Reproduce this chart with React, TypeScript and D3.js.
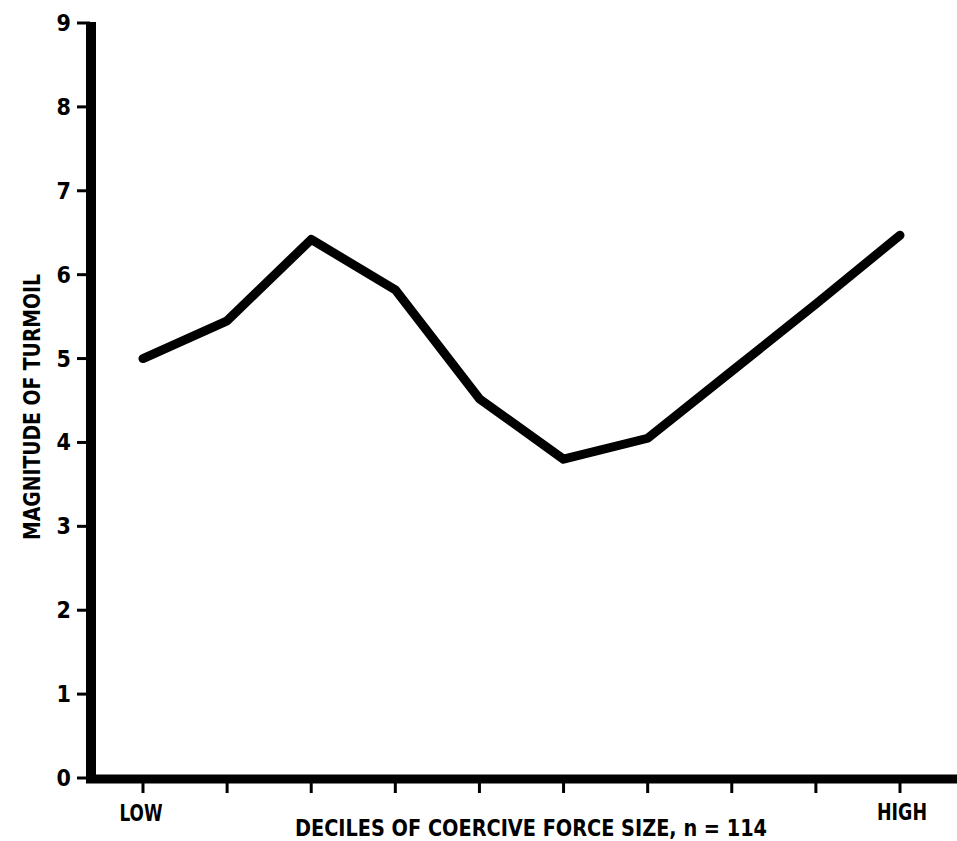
import React from "react";
import * as d3 from "d3";

const deciles = [1, 2, 3, 4, 5, 6, 7, 8, 9, 10];
const turmoil = [5.0, 5.45, 6.42, 5.82, 4.52, 3.8, 4.05, 4.85, 5.65, 6.47];
const yTicks = [0, 1, 2, 3, 4, 5, 6, 7, 8, 9];
const xEndLabels = ["LOW", "HIGH"];
const xTitle = "DECILES OF COERCIVE FORCE SIZE, n = 114";
const yTitle = "MAGNITUDE OF TURMOIL";

const W = 957;
const H = 841;
const FONT = "'Liberation Sans Narrow', 'DejaVu Sans Condensed', 'Arial Narrow', sans-serif";

export default function App() {
  const x = d3.scaleLinear().domain([1, 10]).range([143, 900]);
  const y = d3.scaleLinear().domain([0, 9]).range([778, 23]);
  const line = d3
    .line<number>()
    .x((_, i) => x(deciles[i]))
    .y((d) => y(d));

  const axisX = 91;
  const axisY = 779;

  return (
    <svg
      width={W}
      height={H}
      viewBox={`0 0 ${W} ${H}`}
      style={{ position: "fixed", left: 0, top: 0, background: "#fff" }}
    >
      <rect x={0} y={0} width={W} height={H} fill="#fff" />
      {/* y ticks */}
      {yTicks.map((t) => (
        <g key={t}>
          <line x1={77} x2={90} y1={y(t)} y2={y(t)} stroke="#000" strokeWidth={3} />
          <text
            x={71}
            y={y(t) + 8}
            textAnchor="end"
            fontFamily={FONT}
            fontWeight="bold"
            fontSize={23}
            fill="#000"
          >
            {t}
          </text>
        </g>
      ))}
      {/* x ticks */}
      {deciles.map((d) => (
        <line key={d} x1={x(d)} x2={x(d)} y1={782} y2={793} stroke="#000" strokeWidth={3} />
      ))}
      {/* axes */}
      <line x1={axisX} x2={axisX} y1={22} y2={783} stroke="#000" strokeWidth={10} />
      <line x1={86} x2={W} y1={axisY} y2={axisY} stroke="#000" strokeWidth={9} />
      {/* data line */}
      <path
        d={line(turmoil) || ""}
        fill="none"
        stroke="#000"
        strokeWidth={9}
        strokeLinecap="round"
        strokeLinejoin="round"
      />
      {/* x end labels */}
      <text
        x={x(deciles[0]) - 2}
        y={821}
        textAnchor="middle"
        fontFamily={FONT}
        fontWeight="bold"
        fontSize={23}
        textLength={43}
        lengthAdjust="spacingAndGlyphs"
      >
        {xEndLabels[0]}
      </text>
      <text
        x={x(deciles[9]) + 2}
        y={820}
        textAnchor="middle"
        fontFamily={FONT}
        fontWeight="bold"
        fontSize={23}
        textLength={50}
        lengthAdjust="spacingAndGlyphs"
      >
        {xEndLabels[1]}
      </text>
      {/* x title */}
      <text
        x={531}
        y={836}
        textAnchor="middle"
        fontFamily={FONT}
        fontWeight="bold"
        fontSize={23}
        textLength={472}
        lengthAdjust="spacingAndGlyphs"
      >
        {xTitle}
      </text>
      {/* y title */}
      <text
        transform="translate(40,407) rotate(-90)"
        textAnchor="middle"
        fontFamily={FONT}
        fontWeight="bold"
        fontSize={23}
        textLength={266}
        lengthAdjust="spacingAndGlyphs"
      >
        {yTitle}
      </text>
    </svg>
  );
}
